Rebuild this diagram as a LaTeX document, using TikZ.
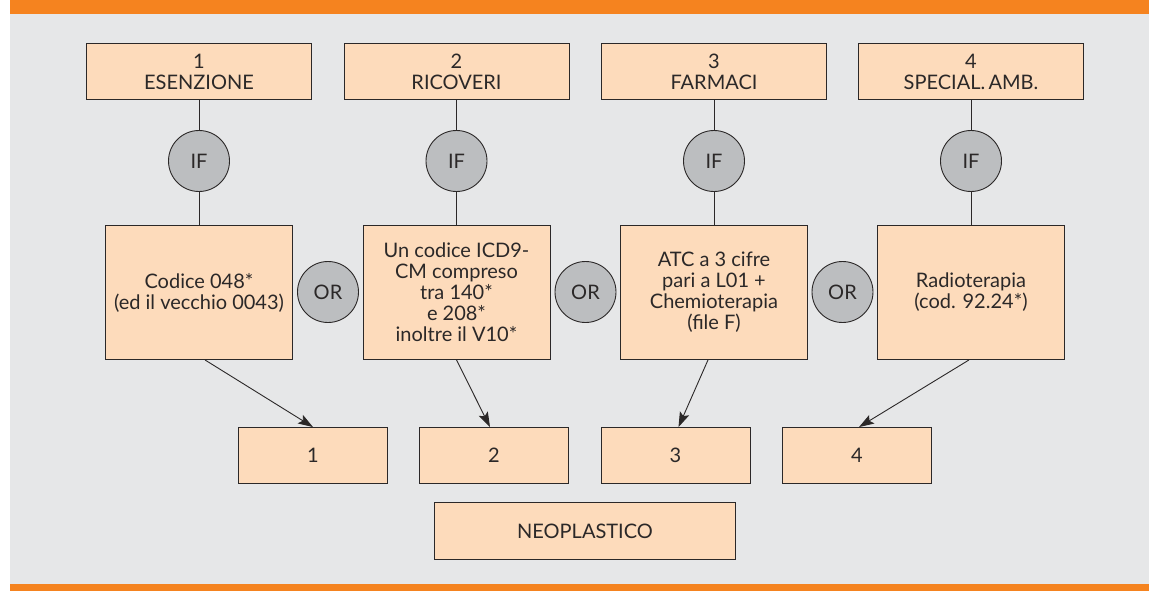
\documentclass[tikz,border=0pt]{standalone}
\usepackage{fontspec}
\setmainfont{Lato}
\usetikzlibrary{arrows.meta,shapes.geometric}
\definecolor{bandorange}{HTML}{F5831F}
\definecolor{bggray}{HTML}{E6E7E8}
\definecolor{peach}{HTML}{FDDBBB}
\definecolor{circgray}{HTML}{BCBEC0}
\definecolor{ink}{HTML}{2B2828}
\tikzset{
  every node/.style={font=\fontsize{20}{21}\selectfont, text=ink},
  boxbase/.style={draw=ink, line width=0.9pt, fill=peach, align=center, inner sep=2pt},
  topbox/.style={boxbase, minimum width=225pt, minimum height=56pt},
  midbox/.style={boxbase, minimum width=187pt, minimum height=134pt},
  botbox/.style={boxbase, minimum width=149pt, minimum height=56pt},
  finalbox/.style={boxbase, minimum width=301pt, minimum height=57pt},
  gate/.style={circle, draw=ink, line width=0.9pt, fill=circgray, minimum size=61pt, inner sep=0pt},
  link/.style={draw=ink, line width=0.9pt},
  arrowlink/.style={link, -{Stealth[length=15pt, width=10pt, inset=3pt]}}
}
\begin{document}
\begin{tikzpicture}[x=1pt, y=-1pt]
\useasboundingbox (0,0) rectangle (1149,591);
\fill[white] (0,0) rectangle (1149,591);
\fill[bggray] (10,14) rectangle (1149,583.5);
\fill[bandorange] (10,0) rectangle (1149,14);
\fill[bandorange] (10,583.5) rectangle (1149,591);

% top row
\node[topbox] (t1) at (199,71.5) {1\\ESENZIONE};
\node[topbox] (t2) at (456.5,71.5) {2\\RICOVERI};
\node[topbox] (t3) at (714,71.5) {3\\FARMACI};
\node[topbox] (t4) at (971,71.5) {4\\SPECIAL.\,AMB.};

% IF gates
\node[gate] (if1) at (199,161) {IF};
\node[gate] (if2) at (456.5,161) {IF};
\node[gate] (if3) at (714,161) {IF};
\node[gate] (if4) at (971,161) {IF};

% middle boxes
\node[midbox] (m1) at (199,292.5) {Codice 048*\\(ed il vecchio 0043)};
\node[midbox] (m2) at (456.5,292.5) {Un codice ICD9-\\CM compreso\\tra 140*\\e 208*\\inoltre il V10*};
\node[midbox] (m3) at (714,292.5) {ATC a 3 cifre\\pari a L01 +\\Chemioterapia\\(file F)};
\node[midbox] (m4) at (971,292.5) {Radioterapia\\(cod. 92.24*)};

% OR gates
\node[gate] (or1) at (328,292) {OR};
\node[gate] (or2) at (585.5,292) {OR};
\node[gate] (or3) at (842.5,292) {OR};

% bottom boxes
\node[botbox] (b1) at (313,455.5) {1};
\node[botbox] (b2) at (494,455.5) {2};
\node[botbox] (b3) at (675.5,455.5) {3};
\node[botbox] (b4) at (857,455.5) {4};

\node[finalbox] (neo) at (585,531) {NEOPLASTICO};

% connectors
\foreach \i in {1,2,3,4}{
  \draw[link] (t\i) -- (if\i);
  \draw[link] (if\i) -- (m\i);
}
\draw[arrowlink] ([xshift=6pt]m1.south) -- (b1.north);
\draw[arrowlink] (m2.south) -- ([xshift=-4pt]b2.north);
\draw[arrowlink] ([xshift=-6pt]m3.south) -- ([xshift=3pt]b3.north);
\draw[arrowlink] ([xshift=-2pt]m4.south) -- ([xshift=2pt]b4.north);
\end{tikzpicture}
\end{document}
